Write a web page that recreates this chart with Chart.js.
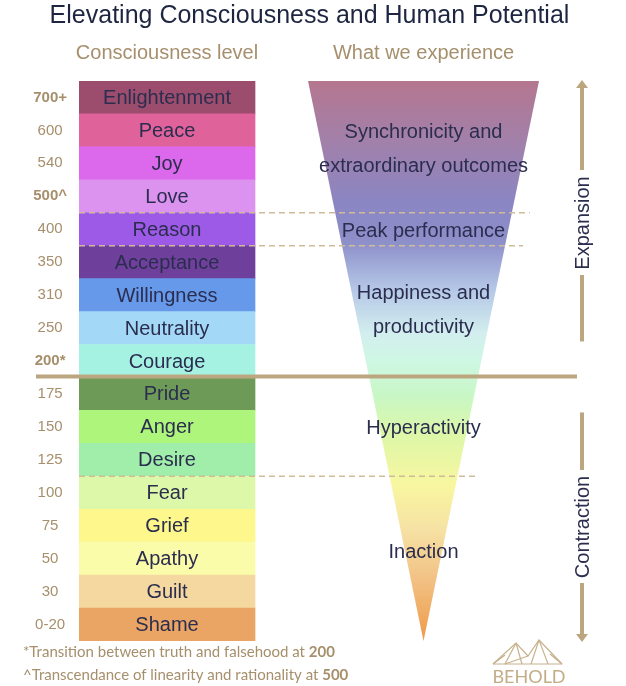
<!DOCTYPE html>
<html>
<head>
<meta charset="utf-8">
<script src="https://cdn.jsdelivr.net/npm/chart.js@4"></script>
<style>
  html, body { margin: 0; padding: 0; background: #ffffff; }
</style>
</head>
<body>
<canvas id="chart" width="626" height="686"></canvas>
<script>
// Consciousness levels (top to bottom)
const levelNames = ['Enlightenment', 'Peace', 'Joy', 'Love', 'Reason', 'Acceptance', 'Willingness',
  'Neutrality', 'Courage', 'Pride', 'Anger', 'Desire', 'Fear', 'Grief', 'Apathy', 'Guilt', 'Shame'];
const levelScores = ['700+', '600', '540', '500^', '400', '350', '310', '250', '200*',
  '175', '150', '125', '100', '75', '50', '30', '0-20'];
const boldScores = ['700+', '500^', '200*'];
const cellSpan = [1, 1, 1, 1, 1, 1, 1, 1, 1, 1, 1, 1, 1, 1, 1, 1, 1];

// Funnel outline ("what we experience"), in level units
const funnelX = [-1, 0, 1];
const funnelY = [17, 0, 17];

const experienceLines = [
  ['Synchronicity and', 'extraordinary outcomes'],
  ['Peak performance'],
  ['Happiness and', 'productivity'],
  ['Hyperactivity'],
  ['Inaction']
];
const experienceRow = [1.53, 4, 6.42, 10, 13.74];

const footnotes = [
  ['*Transition between truth and falsehood at ', '200'],
  ['^Transcendance of linearity and rationality at ', '500']
];

// Styles
const cellColors = ['#9c4d6d', '#e0629a', '#dc68ec', '#dc92ef', '#9d5ae6', '#6f409b', '#6699ea',
  '#a3d9f7', '#a6f2e2', '#6e9a58', '#aef57c', '#a0eea9', '#def8a9', '#fdf78c', '#fbfcaa', '#f4d8a0', '#eaa565'];
const TAN = '#a68f6c';
const LINE_TAN = '#bca680';
const NAVY = '#2b2d4f';
const SANS = "'Liberation Sans', Arial, sans-serif";

function funnelGradient(ctx) {
  const area = ctx.chart.chartArea;
  if (!area) return 'rgba(0,0,0,0)';
  const g = ctx.chart.ctx.createLinearGradient(0, area.top, 0, area.bottom);
  g.addColorStop(0.00, '#b5768f');
  g.addColorStop(0.10, '#a380a8');
  g.addColorStop(0.22, '#8a86c4');
  g.addColorStop(0.29, '#8e90ca');
  g.addColorStop(0.37, '#b4c6e6');
  g.addColorStop(0.45, '#d2eeee');
  g.addColorStop(0.50, '#cff7e4');
  g.addColorStop(0.56, '#c8f7c6');
  g.addColorStop(0.63, '#dcf7a8');
  g.addColorStop(0.72, '#f8f7a0');
  g.addColorStop(0.80, '#f6e2a4');
  g.addColorStop(0.89, '#f2c184');
  g.addColorStop(1.00, '#ee9a48');
  return g;
}

// Everything that is not a data mark
const decorPlugin = {
  id: 'decor',
  afterDatasetsDraw(chart) {
    const ctx = chart.ctx;
    const area = chart.chartArea;
    const y = chart.scales.y;
    const xf = chart.scales.xf;
    const yf = chart.scales.yf;
    const band = area.height / levelNames.length;
    const boundary = i => y.getPixelForValue(i) + band / 2;
    const cx = xf.getPixelForValue(0);
    const bars = chart.getDatasetMeta(1).data;

    ctx.save();
    ctx.textAlign = 'center';
    ctx.textBaseline = 'middle';

    // column headers
    ctx.fillStyle = TAN;
    ctx.font = '20px ' + SANS;
    ctx.fillText('Consciousness level', (bars[0].x + bars[0].base) / 2, 53);
    ctx.fillText('What we experience', cx, 53);

    // level names inside the cells
    ctx.fillStyle = NAVY;
    ctx.font = '20px ' + SANS;
    bars.forEach((bar, i) => {
      ctx.fillText(levelNames[i], (bar.x + bar.base) / 2, bar.y + 1);
    });

    // dashed separators
    ctx.strokeStyle = '#cfbb97';
    ctx.lineWidth = 1.5;
    ctx.setLineDash([6, 4]);
    [3, 4, 11].forEach(i => {
      const py = boundary(i);
      const half = yf.getValueForPixel(py) / 17;
      ctx.beginPath();
      ctx.moveTo(area.left, py);
      ctx.lineTo(xf.getPixelForValue(half) + 18, py);
      ctx.stroke();
    });
    ctx.setLineDash([]);

    // experience text in the funnel
    ctx.fillStyle = NAVY;
    experienceLines.forEach((lines, k) => {
      const c = area.top + band * (experienceRow[k] + 0.5) + 2;
      lines.forEach((t, j) => {
        ctx.fillText(t, cx, c + (j - (lines.length - 1) / 2) * 34);
      });
    });

    // truth / falsehood divider
    const divY = boundary(8) - 1;
    ctx.strokeStyle = LINE_TAN;
    ctx.lineWidth = 4;
    ctx.beginPath();
    ctx.moveTo(36, divY);
    ctx.lineTo(577, divY);
    ctx.stroke();

    // expansion / contraction arrows
    const ax = 582;
    ctx.fillStyle = LINE_TAN;
    const seg = (a, b) => { ctx.beginPath(); ctx.moveTo(ax, a); ctx.lineTo(ax, b); ctx.stroke(); };
    seg(area.top + 6, 170);
    seg(275, divY - 35);
    ctx.beginPath();
    ctx.moveTo(ax, area.top - 1);
    ctx.lineTo(ax - 6, area.top + 7);
    ctx.lineTo(ax + 6, area.top + 7);
    ctx.closePath();
    ctx.fill();
    seg(divY + 36, 470);
    seg(583, area.bottom - 5);
    ctx.beginPath();
    ctx.moveTo(ax, area.bottom + 1);
    ctx.lineTo(ax - 6, area.bottom - 7);
    ctx.lineTo(ax + 6, area.bottom - 7);
    ctx.closePath();
    ctx.fill();

    ctx.fillStyle = NAVY;
    ctx.font = '20px ' + SANS;
    [['Expansion', 223], ['Contraction', 527]].forEach(([t, cy]) => {
      ctx.save();
      ctx.translate(ax, cy);
      ctx.rotate(-Math.PI / 2);
      ctx.fillText(t, 0, 1);
      ctx.restore();
    });

    // footnotes
    ctx.textAlign = 'left';
    footnotes.forEach(([txt, num], k) => {
      const fy = 652 + k * 23;
      ctx.font = "15px Lato, 'Open Sans', sans-serif";
      ctx.fillStyle = TAN;
      ctx.fillText(txt, 23, fy);
      const w = ctx.measureText(txt).width;
      ctx.font = "bold 15px Lato, 'Open Sans', sans-serif";
      ctx.fillText(num, 23 + w, fy);
    });

    // BEHOLD logo
    ctx.strokeStyle = '#c6b28c';
    ctx.lineWidth = 1.2;
    const pts = [[493, 664], [516, 643], [528, 656], [539, 640], [562, 664]];
    ctx.beginPath();
    ctx.moveTo(pts[0][0], pts[0][1]);
    pts.slice(1).forEach(p => ctx.lineTo(p[0], p[1]));
    ctx.stroke();
    [[516, 643, 505, 664], [516, 643, 522, 664], [539, 640, 531, 664], [539, 640, 548, 664],
     [493, 664, 505, 655], [505, 664, 528, 656], [562, 664, 550, 654], [493, 664, 562, 664]].forEach(l => {
      ctx.beginPath();
      ctx.moveTo(l[0], l[1]);
      ctx.lineTo(l[2], l[3]);
      ctx.stroke();
    });
    ctx.fillStyle = '#c2ad86';
    ctx.textAlign = 'center';
    ctx.font = "18px Lato, 'Open Sans', sans-serif";
    ctx.fillText('BEHOLD', 529, 677);

    ctx.restore();
  }
};

new Chart(document.getElementById('chart'), {
  data: {
    labels: levelScores,
    datasets: [
      {
        type: 'line',
        indexAxis: 'x',
        xAxisID: 'xf',
        yAxisID: 'yf',
        data: funnelX.map((x, i) => ({ x: x, y: funnelY[i] })),
        fill: 'end',
        backgroundColor: funnelGradient,
        borderWidth: 0,
        pointRadius: 0,
        tension: 0
      },
      {
        type: 'bar',
        indexAxis: 'y',
        grouped: false,
        xAxisID: 'x',
        yAxisID: 'y',
        data: cellSpan,
        backgroundColor: cellColors,
        borderWidth: 0,
        barPercentage: 1,
        categoryPercentage: 1
      }
    ]
  },
  options: {
    indexAxis: 'y',
    responsive: false,
    animation: false,
    layout: { padding: { left: 19, right: 26, top: 0, bottom: 45 } },
    scales: {
      x: { type: 'linear', min: 0, max: 2.96, display: false },
      y: {
        type: 'category',
        position: 'left',
        offset: true,
        grid: { display: false, offset: true },
        border: { display: false },
        afterFit: s => { s.width = 60; },
        ticks: {
          padding: 4,
          crossAlign: 'center',
          color: TAN,
          font: c => ({
            family: SANS,
            size: 15,
            weight: boldScores.includes(levelScores[c.index]) ? 'bold' : 'normal'
          })
        }
      },
      xf: { type: 'linear', axis: 'x', min: -2.983, max: 1.528, display: false },
      yf: { type: 'linear', axis: 'y', min: 0, max: 17, display: false }
    },
    plugins: {
      legend: { display: false },
      tooltip: { enabled: false },
      title: {
        display: true,
        text: 'Elevating Consciousness and Human Potential',
        color: '#1d2540',
        font: { family: SANS, size: 25, weight: 'normal' },
        padding: { top: 1, bottom: 50 }
      }
    }
  },
  plugins: [decorPlugin]
});
</script>
</body>
</html>
